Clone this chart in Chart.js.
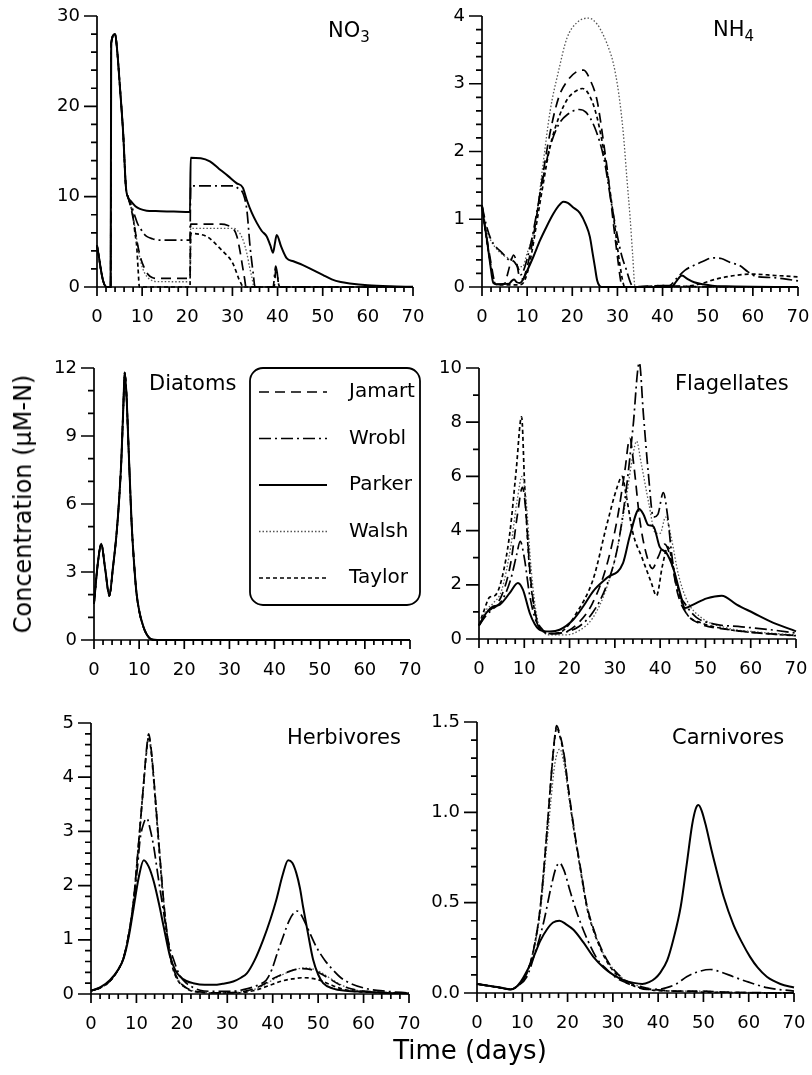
<!DOCTYPE html>
<html lang="en">
<head>
  <meta charset="UTF-8">
  <title>Model comparison</title>
  <style>
    *{
      margin: 0;
      padding: 0;
    }
    body{
      width: 812px;
      height: 1075px;
      background: #fff;
      position: relative;
      overflow: hidden;
      font-family: "DejaVu Sans", sans-serif;
      color: #000;
    }
    canvas{
      position: absolute;
    }
    .title{
      position: absolute;
      font-size: 21px;
      line-height: 1;
      white-space: nowrap;
    }
    .title sub{
      font-size: 15px;
      vertical-align: -5px;
    }
    #ytitle{
      position: absolute;
      left: 23px;
      top: 504px;
      font-size: 24px;
      white-space: nowrap;
      transform: translate(-50%, -50%) rotate(-90deg);
    }
    #xtitle{
      position: absolute;
      left: 470px;
      top: 1050px;
      font-size: 26px;
      white-space: nowrap;
      transform: translate(-50%, -50%);
    }
  </style>
</head>
<body>
  <canvas id="no3"></canvas>
  <canvas id="nh4"></canvas>
  <canvas id="dia"></canvas>
  <canvas id="fla"></canvas>
  <canvas id="her"></canvas>
  <canvas id="car"></canvas>

  <div class="title" style="left:328px;top:20px">NO<sub>3</sub></div>
  <div class="title" style="left:713px;top:19px">NH<sub>4</sub></div>
  <div class="title" style="left:149px;top:373px">Diatoms</div>
  <div class="title" style="left:675px;top:373px">Flagellates</div>
  <div class="title" style="left:287px;top:727px">Herbivores</div>
  <div class="title" style="left:672px;top:727px">Carnivores</div>
  <div id="ytitle">Concentration (µM-N)</div>
  <div id="xtitle">Time (days)</div>

  <script type="text/javascript" src="https://cdn.jsdelivr.net/npm/chart.js"></script>

  <script>
    const models = ['Jamart', 'Wrobl', 'Parker', 'Walsh', 'Taylor'];

    // [day, concentration]
    // NO3 - all runs share the first nutrient pulse
    const no3Pulse = [[0,4.6],[0.4,3.4],[0.9,1.8],[1.4,0.6],[1.9,0.05],[2.2,0],[3.02,0],[3.15,27],[4,28],[4.5,26],[5.07,22.2],[5.8,17],[6.4,11.1],[6.9,9.9]];
    const no3Jamart = [[7.4,9.0],[8,7.6],[8.6,5.8],[9.2,4.2],[9.8,3.0],[10.5,2.1],[11.3,1.4],[12.2,1.05],[13.5,0.95],[20.6,0.95],[20.75,6.95],[27.5,6.95],[29,6.8],[30.3,6.4],[31,5.6],[31.6,4.2],[32.2,2.4],[32.7,0.9],[33,0],[39.2,0],[39.7,2.2],[40.3,0.1],[40.6,0],[70,0]];
    const no3Wrobl = [[7.5,9.2],[8.3,8.0],[9,7.0],[9.5,6.6],[10.2,6.0],[11,5.6],[12.2,5.35],[13.6,5.2],[20.6,5.2],[20.75,11.2],[30.2,11.2],[31.3,10.9],[32.4,10.3],[33.2,8.5],[33.9,4.5],[34.6,1.5],[35,0],[39,0],[39.6,2.3],[40.3,0.2],[40.7,0],[70,0]];
    const no3Parker = [[7.5,9.5],[8.5,8.95],[9.5,8.65],[11,8.45],[13,8.4],[17,8.35],[20.6,8.3],[20.75,14.3],[23,14.25],[25,13.9],[27,13.1],[29,12.3],[30.9,11.5],[32.3,11.0],[33.2,9.6],[34.3,8.2],[35.4,7.1],[36.5,6.2],[37.6,5.6],[38.4,4.6],[39,3.8],[39.4,4.8],[39.8,5.76],[40.8,4.46],[42,3.2],[43.5,2.85],[45.5,2.45],[48,1.85],[50,1.35],[52,0.85],[54,0.55],[56,0.4],[60,0.2],[65,0.08],[70,0.02]];
    const no3Walsh = [[7.4,9.1],[8,7.8],[8.6,5.9],[9.2,4.0],[9.8,2.6],[10.5,1.6],[11.4,0.96],[12.3,0.7],[13.2,0.6],[20.6,0.58],[20.75,6.5],[30.2,6.5],[31,6.3],[31.7,5.9],[32.5,5.0],[33.2,3.7],[33.8,2.2],[34.3,1.1],[34.8,0],[70,0]];
    const no3Taylor = [[7.3,9.3],[8,7.8],[8.4,6.0],[8.8,4.5],[9.1,2.0],[9.4,0],[20.6,0],[20.75,5.94],[22.5,5.85],[24.3,5.6],[25.8,5.0],[27.2,4.3],[28.4,3.7],[29.5,3.1],[30.3,2.4],[30.9,1.6],[31.5,0.8],[32,0.3],[32.3,0],[70,0]];

    // NH4
    const nh4Jamart = [[0,1.2],[1,0.75],[2,0.35],[2.8,0.08],[3.5,0.04],[5,0.05],[5.7,0.2],[6.5,0.4],[7,0.47],[7.6,0.38],[8.3,0.15],[9,0.12],[10,0.3],[11,0.6],[12,1.0],[13,1.45],[15,2.25],[17,2.8],[19,3.05],[21,3.18],[22.5,3.2],[24,3.05],[25.5,2.75],[27,2.1],[28,1.6],[29,1.0],[30,0.45],[30.7,0.1],[31,0],[36,0.01],[40,0.02],[45,0.01],[70,0]];
    const nh4Wrobl = [[0,1.2],[1,0.9],[2,0.7],[3,0.6],[4.5,0.5],[6,0.4],[7,0.38],[8,0.28],[8.6,0.18],[9.5,0.3],[11,0.7],[12,1.05],[13.5,1.6],[15,2.05],[17,2.4],[19,2.55],[21.5,2.62],[23,2.58],[25,2.35],[27,1.9],[28.5,1.3],[30,0.75],[31,0.45],[32,0.25],[32.8,0.08],[33.5,0],[40,0.02],[41.5,0.02],[43,0.12],[45,0.25],[47,0.32],[49,0.38],[51,0.43],[53,0.42],[55,0.36],[57,0.32],[59,0.22],[61,0.15],[64,0.14],[67,0.12],[70,0.09]];
    const nh4Parker = [[0,1.2],[0.5,0.95],[1,0.74],[1.8,0.35],[2.5,0.06],[3.2,0.04],[6,0.05],[6.6,0.09],[7.1,0.11],[7.7,0.07],[8.4,0.06],[9,0.1],[10,0.24],[11.4,0.45],[12.8,0.68],[14.3,0.89],[15.8,1.08],[17,1.2],[18,1.26],[19,1.24],[20.3,1.17],[21.7,1.09],[23,0.92],[23.9,0.74],[24.5,0.5],[25,0.3],[25.5,0.1],[26,0.02],[26.5,0],[42,0],[43,0.08],[44.3,0.17],[45.5,0.12],[47,0.07],[49,0.04],[51,0.02],[54,0.01],[70,0]];
    const nh4Walsh = [[0,1.2],[1,0.85],[2,0.68],[3,0.58],[4.5,0.48],[6,0.42],[7,0.38],[8,0.3],[9,0.3],[10,0.5],[11.4,0.79],[12.3,1.15],[13.5,1.8],[15.1,2.6],[17,3.2],[18.8,3.67],[21,3.9],[23.6,3.97],[25.5,3.88],[27,3.7],[28.2,3.5],[29.1,3.3],[30.3,2.85],[31.3,2.27],[32.1,1.6],[32.8,1.03],[33.4,0.45],[33.9,0],[70,0]];
    const nh4Taylor = [[0,1.2],[1,0.7],[2,0.3],[2.7,0.08],[3.5,0.03],[8,0.03],[9,0.05],[10,0.2],[11,0.5],[12,0.9],[13.5,1.5],[15,2.05],[17,2.5],[19,2.78],[21,2.9],[22.3,2.93],[24,2.8],[25.5,2.5],[27,2.0],[28.5,1.35],[29.5,0.85],[30.5,0.35],[31.3,0.05],[31.6,0],[45,0.01],[48,0.04],[52,0.12],[56,0.17],[60,0.19],[65,0.17],[70,0.15]];

    // Diatoms - the five runs are practically on top of each other
    const diaJamart = [[0,1.6],[0.8,3.3],[1.6,4.25],[2.5,3.1],[3.4,1.95],[4.2,3.2],[5,4.7],[5.6,6.3],[6.06,7.95],[6.5,10.3],[6.8,11.8],[7.2,10.8],[7.5,9.3],[8.3,5.3],[8.8,3.6],[9.4,2.1],[10.1,1.2],[10.9,0.6],[11.6,0.27],[12.3,0.08],[13,0.01],[14,0],[70,0]];
    const diaWrobl = [[0,1.6],[0.8,3.3],[1.6,4.2],[2.5,3.1],[3.4,1.95],[4.2,3.2],[5,4.7],[5.6,6.3],[6.06,7.95],[6.5,10.3],[6.8,11.75],[7.2,10.8],[7.5,9.3],[8.3,5.3],[8.8,3.6],[9.4,2.1],[10.1,1.2],[10.9,0.6],[11.6,0.27],[12.3,0.08],[13,0.01],[14,0],[70,0]];
    const diaParker = [[0,1.6],[0.8,3.3],[1.6,4.25],[2.5,3.1],[3.4,1.95],[4.2,3.2],[5,4.7],[5.6,6.3],[6.06,7.95],[6.5,10.3],[6.8,11.8],[7.2,10.8],[7.5,9.3],[8.3,5.3],[8.8,3.6],[9.4,2.1],[10.1,1.2],[10.9,0.62],[11.6,0.28],[12.3,0.09],[13,0.02],[14,0],[70,0]];
    const diaWalsh = [[0,1.6],[0.8,3.3],[1.6,4.2],[2.5,3.1],[3.4,1.95],[4.2,3.2],[5,4.7],[5.6,6.3],[6.06,7.95],[6.5,10.3],[6.8,11.7],[7.2,10.8],[7.5,9.3],[8.3,5.3],[8.8,3.6],[9.4,2.1],[10.1,1.2],[10.9,0.6],[11.6,0.27],[12.3,0.08],[13,0.01],[14,0],[70,0]];
    const diaTaylor = [[0,1.6],[0.8,3.3],[1.6,4.25],[2.5,3.1],[3.4,1.95],[4.2,3.2],[5,4.7],[5.6,6.3],[6.06,7.95],[6.5,10.3],[6.8,11.8],[7.2,10.8],[7.5,9.3],[8.3,5.3],[8.8,3.6],[9.4,2.1],[10.1,1.2],[10.9,0.6],[11.6,0.27],[12.3,0.08],[13,0.01],[14,0],[70,0]];

    // Flagellates
    const flaJamart = [[0,0.5],[1.5,0.95],[3,1.15],[5,1.6],[7,2.8],[8.5,4.6],[9.6,5.6],[10.3,4.8],[11.3,2.4],[12.5,0.9],[14,0.35],[16,0.2],[19,0.25],[22,0.6],[25,1.3],[28,2.6],[30.5,4.4],[32.2,6.2],[33.3,7.4],[34.2,6.4],[35.5,4.4],[37,3.1],[38.3,2.6],[39.5,3.0],[41,3.5],[42.3,3.0],[44,1.6],[46,0.9],[49,0.55],[55,0.35],[62,0.22],[70,0.13]];
    const flaWrobl = [[0,0.5],[1.5,0.85],[3,1.1],[5,1.4],[7,2.2],[8.3,3.1],[9.1,3.6],[10,3.0],[11.2,1.6],[12.5,0.7],[14,0.3],[16,0.2],[19,0.25],[22,0.45],[25,0.95],[28,1.9],[30.5,3.3],[32.5,5.5],[34,7.8],[35.4,10.2],[36.3,8.3],[37.4,6.1],[38.5,4.5],[39.5,4.6],[40.7,5.4],[41.6,4.6],[42.5,3.2],[43.6,1.95],[45.5,1.3],[48,0.8],[52,0.55],[58,0.45],[64,0.35],[70,0.22]];
    const flaParker = [[0,0.5],[1.6,0.96],[3.1,1.2],[4.6,1.27],[6.8,1.7],[8.6,2.07],[9.7,1.82],[11.2,0.96],[12.3,0.55],[13.4,0.34],[15.6,0.28],[17.8,0.34],[20.8,0.71],[23,1.2],[25.2,1.76],[28.2,2.25],[31.8,2.8],[33.3,3.8],[35.4,4.8],[36.3,4.6],[37.4,4.2],[38.5,4.16],[39.9,3.4],[41.4,3.17],[42.9,2.6],[44.4,1.7],[45.5,1.14],[47.3,1.27],[50.3,1.5],[53.6,1.6],[56.9,1.27],[60.6,0.96],[64.3,0.65],[70,0.28]];
    const flaWalsh = [[0,0.5],[1.5,1.05],[3,1.3],[5,1.8],[7,3.4],[8.5,5.2],[9.5,6.0],[10.3,5.3],[11.5,2.6],[12.8,0.8],[14,0.3],[16,0.15],[19,0.15],[22,0.3],[25,0.75],[28,1.8],[30.5,3.3],[32.5,5.2],[34,6.8],[34.8,7.3],[35.8,6.5],[37.5,5.0],[39,3.9],[40,3.9],[41.2,4.5],[42.5,3.7],[44,2.4],[46,1.4],[49,0.8],[55,0.4],[62,0.25],[70,0.15]];
    const flaTaylor = [[0,0.5],[1,1.0],[2.4,1.55],[3.5,1.6],[5,2.2],[6.8,3.9],[8.2,6.2],[9.4,8.2],[10.1,5.6],[11.2,2.5],[12.7,0.7],[14,0.3],[16,0.2],[18.5,0.3],[21.5,0.95],[25.2,2.2],[28.2,4.2],[30.5,5.6],[31.6,6.0],[32.5,5.3],[34,3.9],[36,3.0],[38,2.1],[39.2,1.6],[40.5,2.7],[41.7,3.4],[43,2.6],[44.5,1.5],[46,0.9],[49,0.6],[55,0.35],[62,0.22],[70,0.12]];

    // Herbivores
    const herJamart = [[0,0.06],[2,0.11],[4.2,0.24],[6,0.45],[7.2,0.68],[8.3,1.1],[9.4,1.75],[10.3,2.6],[10.9,3.2],[11.6,3.9],[12.2,4.5],[12.7,4.8],[13.2,4.55],[13.8,4.0],[14.5,3.25],[15.2,2.5],[16,1.7],[16.7,1.15],[17.5,0.7],[18.2,0.45],[19.2,0.26],[20.4,0.15],[22,0.07],[24,0.04],[28,0.02],[32,0.03],[35.7,0.09],[38,0.18],[40,0.28],[42,0.36],[44.5,0.44],[46.5,0.47],[48.5,0.45],[50.5,0.38],[52.5,0.28],[55,0.16],[58,0.08],[62,0.04],[70,0.01]];
    const herWrobl = [[0,0.06],[2,0.12],[4.2,0.25],[6,0.45],[7.2,0.68],[8.3,1.1],[9.4,1.7],[10.3,2.4],[10.8,2.85],[11.6,3.15],[12.3,3.24],[13,3.05],[13.8,2.72],[14.8,2.15],[16,1.5],[17,0.98],[18.2,0.63],[19.5,0.35],[21,0.2],[22.5,0.12],[24,0.07],[27,0.05],[31,0.05],[33.5,0.08],[35.7,0.13],[37.2,0.18],[38.6,0.26],[39.8,0.45],[41,0.75],[42.3,1.06],[43.6,1.35],[44.7,1.5],[45.4,1.53],[46.2,1.47],[47.5,1.25],[49.6,0.87],[51.5,0.62],[53.3,0.44],[55,0.3],[57,0.2],[60.6,0.1],[65,0.05],[70,0.02]];
    const herParker = [[0,0.06],[2,0.12],[4.2,0.26],[6,0.45],[7.2,0.66],[8.3,1.05],[9.4,1.6],[10.5,2.15],[11.6,2.47],[12.7,2.35],[13.8,2.08],[15,1.65],[16,1.24],[17.4,0.69],[18.5,0.45],[19.6,0.32],[21,0.24],[22.5,0.2],[25,0.17],[27,0.17],[29,0.19],[31.3,0.23],[33,0.3],[34.3,0.38],[36,0.62],[37.9,1.0],[39.5,1.38],[40.8,1.74],[42.2,2.2],[43.4,2.47],[44.3,2.42],[45.2,2.23],[46,1.95],[46.7,1.6],[47.8,1.1],[48.9,0.63],[50,0.36],[51.1,0.2],[53.3,0.1],[56,0.06],[60.6,0.04],[65,0.02],[70,0.01]];
    const herWalsh = [[0,0.06],[2,0.11],[4.2,0.24],[6,0.45],[7.2,0.68],[8.3,1.1],[9.4,1.72],[10.3,2.55],[10.9,3.15],[11.6,3.85],[12.2,4.45],[12.8,4.72],[13.3,4.5],[13.9,3.95],[14.6,3.2],[15.3,2.45],[16.1,1.65],[16.8,1.1],[17.6,0.68],[18.3,0.44],[19.3,0.25],[20.5,0.14],[22,0.07],[24,0.04],[28,0.02],[32,0.03],[35.7,0.08],[38,0.16],[40,0.26],[42,0.35],[44.5,0.44],[47,0.48],[49,0.46],[51,0.38],[53,0.27],[55.5,0.15],[58,0.08],[62,0.04],[70,0.01]];
    const herTaylor = [[0,0.06],[2,0.11],[4.2,0.24],[6,0.45],[7.2,0.68],[8.3,1.1],[9.4,1.75],[10.3,2.6],[10.9,3.2],[11.6,3.9],[12.2,4.45],[12.7,4.75],[13.2,4.5],[13.8,3.95],[14.5,3.2],[15.2,2.45],[16,1.65],[16.7,1.1],[17.5,0.66],[18.2,0.42],[19.2,0.24],[20.4,0.14],[22,0.06],[24,0.03],[28,0.02],[32,0.02],[35.7,0.06],[38,0.12],[40,0.18],[42,0.24],[44.5,0.28],[46.5,0.3],[48.5,0.29],[50.5,0.25],[52.5,0.18],[55,0.1],[58,0.05],[62,0.03],[70,0.01]];

    // Carnivores
    const carJamart = [[0,0.05],[2.5,0.04],[5,0.03],[7.4,0.02],[9,0.04],[10,0.07],[11,0.11],[12.5,0.24],[14,0.48],[15.2,0.82],[16.2,1.14],[17,1.38],[17.6,1.48],[18.2,1.44],[19.1,1.34],[20.2,1.13],[21.3,0.93],[22.8,0.7],[24.3,0.48],[25.8,0.35],[27.2,0.26],[29,0.17],[30.9,0.11],[32.8,0.07],[34.6,0.047],[37,0.03],[39,0.02],[45,0.01],[50,0.01],[55,0.005],[70,0]];
    const carWrobl = [[0,0.05],[2.5,0.04],[5,0.03],[7.4,0.02],[9,0.04],[11,0.09],[12.8,0.22],[14.7,0.39],[16.3,0.58],[17.4,0.69],[18.2,0.72],[19.2,0.68],[20.6,0.56],[22.4,0.42],[24.3,0.3],[26.5,0.19],[28.7,0.13],[31,0.08],[33,0.056],[35,0.035],[37.5,0.02],[40,0.02],[41.9,0.03],[44,0.05],[46.3,0.09],[48.5,0.115],[51.5,0.13],[54,0.115],[56.6,0.09],[60,0.06],[64,0.03],[70,0.01]];
    const carParker = [[0,0.05],[2.5,0.04],[5.1,0.03],[7.4,0.02],[8.5,0.03],[9.6,0.06],[11,0.12],[12.5,0.2],[14,0.29],[15.4,0.35],[16.8,0.39],[18.2,0.4],[19.7,0.38],[21.3,0.35],[23.5,0.28],[25.7,0.2],[28,0.14],[30.1,0.1],[32.5,0.07],[34.6,0.056],[36.5,0.05],[38,0.06],[39.3,0.08],[40.4,0.11],[42,0.18],[43.4,0.3],[45,0.48],[46.3,0.71],[47.5,0.93],[48.3,1.02],[48.9,1.04],[49.6,1.01],[50.6,0.92],[51.7,0.8],[52.9,0.68],[54.5,0.53],[56.6,0.38],[58.5,0.28],[60.3,0.2],[62,0.14],[64,0.09],[67,0.05],[70,0.03]];
    const carWalsh = [[0,0.05],[2.5,0.04],[5,0.03],[7.4,0.02],[9,0.04],[10,0.07],[11,0.11],[12.5,0.23],[14,0.45],[15.2,0.76],[16.3,1.06],[17.2,1.27],[18.3,1.35],[19.2,1.27],[20.3,1.08],[21.4,0.9],[22.9,0.68],[24.4,0.47],[25.9,0.34],[27.3,0.25],[29,0.17],[30.9,0.11],[32.8,0.07],[34.6,0.047],[37,0.03],[39,0.02],[45,0.01],[50,0.01],[55,0.005],[70,0]];
    const carTaylor = [[0,0.05],[2.5,0.04],[5,0.03],[7.4,0.02],[9,0.04],[10,0.07],[11,0.11],[12.5,0.24],[14,0.48],[15.2,0.82],[16.2,1.14],[17,1.37],[17.6,1.47],[18.2,1.43],[19.1,1.33],[20.2,1.12],[21.3,0.92],[22.8,0.69],[24.3,0.47],[25.8,0.34],[27.2,0.25],[29,0.16],[30.9,0.1],[32.8,0.06],[34.6,0.04],[37,0.025],[39,0.015],[45,0.01],[50,0.005],[70,0]];

    // line look per model, in the order of models[]
    const lineStyles = [
      {borderDash: [10, 6], borderWidth: 1.7, borderColor: '#000'},
      {borderDash: [12, 4, 2, 4], borderWidth: 1.7, borderColor: '#000'},
      {borderDash: [], borderWidth: 2, borderColor: '#000'},
      {borderDash: [1.5, 2], borderWidth: 1.3, borderColor: '#555'},
      {borderDash: [4, 3], borderWidth: 1.7, borderColor: '#000'}
    ];

    Chart.defaults.font.family = '"DejaVu Sans", sans-serif';
    Chart.defaults.font.size = 18;
    Chart.defaults.color = '#000';

    // axis lines with major and minor tick marks, placed by the chart scales
    const axesPlugin = {
      id: 'axesTicks',
      afterDatasetsDraw(chart, args, opts) {
        const {ctx, chartArea: a, scales: {x, y}} = chart;
        ctx.save();
        ctx.strokeStyle = '#000';
        ctx.lineWidth = 1.7;
        ctx.setLineDash([]);
        ctx.beginPath();
        ctx.moveTo(a.left, a.top);
        ctx.lineTo(a.left, a.bottom);
        ctx.lineTo(a.right, a.bottom);
        for (let v = x.min; v <= x.max + 1e-6; v += opts.xMinor) {
          const px = x.getPixelForValue(v);
          const major = x.ticks.some(t => Math.abs(t.value - v) < 1e-6);
          ctx.moveTo(px, a.bottom);
          ctx.lineTo(px, a.bottom + (major ? 9 : 5));
        }
        const n = Math.round((y.max - y.min) / opts.yMinor);
        for (let i = 0; i <= n; i++) {
          const v = y.min + i * opts.yMinor;
          const py = y.getPixelForValue(v);
          const major = y.ticks.some(t => Math.abs(t.value - v) < 1e-6);
          ctx.moveTo(a.left, py);
          ctx.lineTo(a.left - (major ? 13 : 6), py);
        }
        ctx.stroke();
        ctx.restore();
      }
    };

    // boxed legend drawn inside the diatoms panel
    const boxLegend = {
      id: 'boxLegend',
      afterDraw(chart, args, opts) {
        if (!opts.show) return;
        const ctx = chart.ctx;
        const a = chart.chartArea;
        const bx = a.left + opts.x, by = a.top + opts.y;
        ctx.save();
        ctx.lineWidth = 1.8;
        ctx.strokeStyle = '#000';
        ctx.setLineDash([]);
        ctx.beginPath();
        ctx.roundRect(bx, by, opts.w, opts.h, 13);
        ctx.stroke();
        ctx.font = '20px "DejaVu Sans", sans-serif';
        ctx.fillStyle = '#000';
        ctx.textBaseline = 'middle';
        chart.data.datasets.forEach((ds, i) => {
          const ly = by + 24 + i * 46.5;
          ctx.beginPath();
          ctx.strokeStyle = ds.borderColor;
          ctx.lineWidth = ds.borderWidth;
          ctx.setLineDash(ds.borderDash);
          ctx.moveTo(bx + 9, ly);
          ctx.lineTo(bx + 77, ly);
          ctx.stroke();
          ctx.fillText(ds.label, bx + 99, ly);
        });
        ctx.restore();
      }
    };

    function makePanel(id, left, top, right, bottom, series, yMax, yStep, yMinor, decimals, legend) {
      const canvas = document.getElementById(id);
      const padTop = 12, padRight = 16, yW = 60, xH = 44;
      canvas.width = (right - left) + yW + padRight;
      canvas.height = (bottom - top) + padTop + xH;
      canvas.style.left = (left - yW) + 'px';
      canvas.style.top = (top - padTop) + 'px';

      const datasets = series.map((data, i) => Object.assign({
        label: models[i],
        data: data,
        pointRadius: 0,
        fill: false,
        cubicInterpolationMode: 'monotone',
        clip: 6
      }, lineStyles[i]));

      return new Chart(canvas, {
        type: 'line',
        data: {datasets},
        options: {
          responsive: false,
          animation: false,
          devicePixelRatio: 1,
          layout: {padding: {top: padTop, right: padRight, left: 0, bottom: 0}},
          scales: {
            x: {
              type: 'linear',
              min: 0,
              max: 70,
              grid: {display: false, drawTicks: false},
              border: {display: false},
              ticks: {stepSize: 10, padding: 20, maxRotation: 0, autoSkip: false},
              afterFit(s) { s.height = xH; s.paddingLeft = 0; s.paddingRight = 0; }
            },
            y: {
              min: 0,
              max: yMax,
              grid: {display: false, drawTicks: false},
              border: {display: false},
              ticks: {stepSize: yStep, padding: 17, callback: v => v.toFixed(decimals)},
              afterFit(s) { s.width = yW; s.paddingTop = 0; s.paddingBottom = 0; }
            }
          },
          plugins: {
            legend: {display: false},
            tooltip: {enabled: false},
            axesTicks: {xMinor: 2, yMinor: yMinor},
            boxLegend: Object.assign({show: !!legend}, legend || {})
          }
        },
        plugins: [axesPlugin, boxLegend]
      });
    }

    makePanel('no3', 97, 16, 413, 287,
      [no3Pulse.concat(no3Jamart), no3Pulse.concat(no3Wrobl), no3Pulse.concat(no3Parker), no3Pulse.concat(no3Walsh), no3Pulse.concat(no3Taylor)],
      30, 10, 2, 0);
    makePanel('nh4', 482, 16, 798, 287,
      [nh4Jamart, nh4Wrobl, nh4Parker, nh4Walsh, nh4Taylor], 4, 1, 0.2, 0);
    makePanel('dia', 94, 368, 410, 640,
      [diaJamart, diaWrobl, diaParker, diaWalsh, diaTaylor], 12, 3, 1, 0,
      {x: 156, y: 0, w: 170, h: 237});
    makePanel('fla', 479, 368, 796, 639,
      [flaJamart, flaWrobl, flaParker, flaWalsh, flaTaylor], 10, 2, 1, 0);
    makePanel('her', 91, 723, 409, 994,
      [herJamart, herWrobl, herParker, herWalsh, herTaylor], 5, 1, 0.2, 0);
    makePanel('car', 477, 722, 794, 993,
      [carJamart, carWrobl, carParker, carWalsh, carTaylor], 1.5, 0.5, 0.1, 1);
  </script>
</body>
</html>
